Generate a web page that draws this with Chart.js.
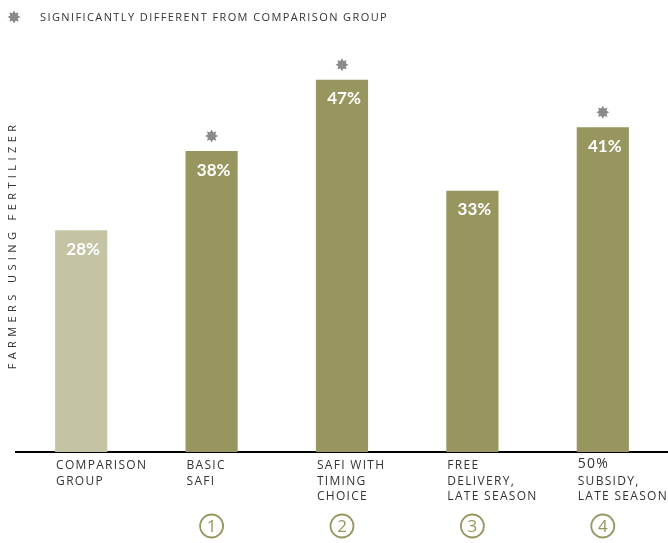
<!DOCTYPE html>
<html>
<head>
<meta charset="utf-8">
<style>
  html, body { margin: 0; padding: 0; background: #fff; }
  #wrap { width: 668px; height: 543px; position: relative; }
</style>
</head>
<body>
<div id="wrap"><canvas id="fertChart" width="668" height="543"></canvas></div>
<script src="https://cdn.jsdelivr.net/npm/chart.js"></script>
<script>
const categories = [
  ['COMPARISON', 'GROUP'],
  ['BASIC', 'SAFI'],
  ['SAFI WITH', 'TIMING', 'CHOICE'],
  ['FREE', 'DELIVERY,', 'LATE SEASON'],
  ['50%', 'SUBSIDY,', 'LATE SEASON']
];
const shares = [28, 38, 47, 33, 41];
const significant = [false, true, true, false, true];
const armNumbers = ['', '1', '2', '3', '4'];
const barColors = ['#c4c3a4', '#97965f', '#97965f', '#97965f', '#97965f'];

const olive = '#97965f';
const textGray = '#333333';
const starGray = '#8a8a8a';

function drawStar(ctx, x, y, r) {
  ctx.save();
  ctx.fillStyle = starGray;
  ctx.beginPath();
  const pts = 8;
  for (let i = 0; i < pts * 2; i++) {
    const a = (Math.PI / pts) * i - Math.PI / 2;
    const rr = i % 2 === 0 ? r : r * 0.62;
    const px = x + Math.cos(a) * rr, py = y + Math.sin(a) * rr;
    i === 0 ? ctx.moveTo(px, py) : ctx.lineTo(px, py);
  }
  ctx.closePath();
  ctx.fill();
  ctx.restore();
}

const annotate = {
  id: 'annotate',
  afterDraw(chart) {
    const ctx = chart.ctx;
    const meta = chart.getDatasetMeta(0);
    const yScale = chart.scales.y;
    ctx.save();

    // legend line
    drawStar(ctx, 14, 17, 6.5);
    ctx.fillStyle = textGray;
    ctx.font = '11px "Open Sans"';
    ctx.letterSpacing = '1.4px';
    ctx.textAlign = 'left';
    ctx.textBaseline = 'middle';
    ctx.fillText('SIGNIFICANTLY DIFFERENT FROM COMPARISON GROUP', 40, 18);

    // y title
    ctx.save();
    ctx.translate(13, 245);
    ctx.rotate(-Math.PI / 2);
    ctx.textAlign = 'center';
    ctx.font = '11px "Open Sans"';
    ctx.letterSpacing = '4.4px';
    ctx.fillText('FARMERS USING FERTILIZER', 0, 0);
    ctx.restore();

    meta.data.forEach((bar, i) => {
      const left = bar.x - bar.width / 2;
      const top = yScale.getPixelForValue(shares[i]);

      // value inside bar
      ctx.letterSpacing = '0px';
      ctx.fillStyle = '#ffffff';
      ctx.font = 'bold 17px Lato';
      ctx.textAlign = 'center';
      ctx.textBaseline = 'middle';
      ctx.fillText(shares[i] + '%', bar.x + 2, top + 19);

      if (significant[i]) drawStar(ctx, bar.x, top - 15, 6.5);

      // category label
      ctx.fillStyle = textGray;
      ctx.letterSpacing = '1.3px';
      ctx.textAlign = 'left';
      categories[i].forEach((line, k) => {
        const isNum = /^\d/.test(line);
        ctx.font = isNum ? '14px "Open Sans"' : '12px "Open Sans"';
        ctx.fillText(line, left + 1, (isNum ? 464 : 466) + k * 15.5);
      });

      // numbered circle
      if (armNumbers[i]) {
        ctx.strokeStyle = olive;
        ctx.lineWidth = 1.8;
        ctx.beginPath();
        ctx.arc(bar.x, 526, 11.5, 0, Math.PI * 2);
        ctx.stroke();
        ctx.fillStyle = olive;
        ctx.font = '17px "Open Sans"';
        ctx.letterSpacing = '0px';
        ctx.textAlign = 'center';
        ctx.fillText(armNumbers[i], bar.x, 527);
      }
    });
    ctx.restore();
  }
};

new Chart(document.getElementById('fertChart'), {
  type: 'bar',
  data: {
    labels: categories,
    datasets: [{
      data: shares,
      backgroundColor: barColors,
      barPercentage: 0.4,
      categoryPercentage: 1
    }]
  },
  options: {
    responsive: false,
    animation: false,
    layout: { padding: { top: 56, left: 16, right: 0, bottom: 83 } },
    plugins: { legend: { display: false }, tooltip: { enabled: false } },
    scales: {
      x: {
        grid: { display: false },
        border: { display: true, color: '#000', width: 2 },
        ticks: { display: false }
      },
      y: {
        display: false,
        min: 0,
        max: 50
      }
    }
  },
  plugins: [annotate]
});
</script>
</body>
</html>
